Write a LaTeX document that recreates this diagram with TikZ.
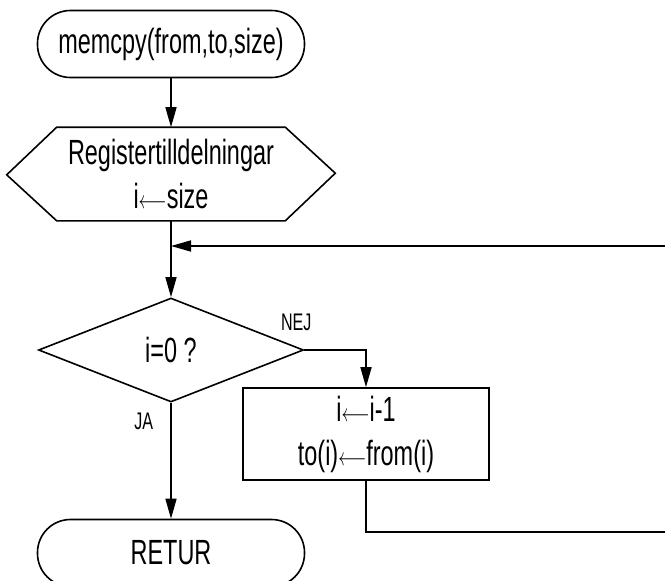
\documentclass[tikz,border=0pt]{standalone}
\usepackage{graphicx}
\usepackage{fontspec}
\setmainfont{Liberation Sans}[FakeStretch=0.67]
\usetikzlibrary{shapes.geometric, arrows.meta}

\newcommand{\asgn}{{\fontsize{25}{25}\selectfont\scalebox{0.7}[1]{$\longleftarrow$}}}

\begin{document}
\begin{tikzpicture}[x=1pt,y=1pt,>={Triangle[length=20pt,width=11pt]},
                     line width=1.6pt,node distance=130pt,
                     big/.style={font=\fontsize{35}{44}\selectfont},
                     term/.style={rectangle,rounded corners=33pt,draw,big,
                                  minimum width=267pt,minimum height=67pt},
                     prep/.style={rectangle,big,align=center,
                                  minimum width=227pt,minimum height=92pt},
                     decision/.style={diamond,aspect=2.55,draw,big,inner sep=0pt,
                                      minimum width=265pt,minimum height=104pt},
                     process/.style={rectangle,draw,big,align=center,
                                     minimum width=246pt,minimum height=92pt},
                     lbl/.style={font=\fontsize{24}{28}\selectfont,inner sep=0pt}]

  \path[use as bounding box] (0,0) rectangle (665,-581);
  \clip (0,0) rectangle (665,-581);

  \node[term] (start) at (171,-44) {memcpy(from,to,size)};
  \node[prep] (init) [below of=start] {Registertilldelningar\\i\asgn size};
  \draw (init.north west) -- (init.north east) -- ++(50,-46) -- (init.south east)
        -- (init.south west) -- ++(-50,46) -- cycle;
  \coordinate[below of=init, node distance=72pt] (join);
  \node[decision] (cond) [below of=init, node distance=176pt] {i=0 ?};
  \node[process] (body) [below of=cond, node distance=84pt, xshift=195pt] {i\asgn i-1\\to(i)\asgn from(i)};
  \node[term] (stop) [below of=cond, node distance=203pt] {RETUR};
  \coordinate[below of=body, node distance=98pt] (low);
  \coordinate[right of=join, node distance=540pt] (back);

  \path[->]
   (start) edge (init)
   (init) edge (cond)
   (cond) edge node[lbl, pos=0.16, left=17pt] {JA} (stop);
  \draw[->] (cond.east) -| node[lbl, pos=0, anchor=south east, xshift=8pt, yshift=18pt] {NEJ} (body.north);
  \draw[->] (body.south) -- (low) -| (back) -- (join);
\end{tikzpicture}
\end{document}
